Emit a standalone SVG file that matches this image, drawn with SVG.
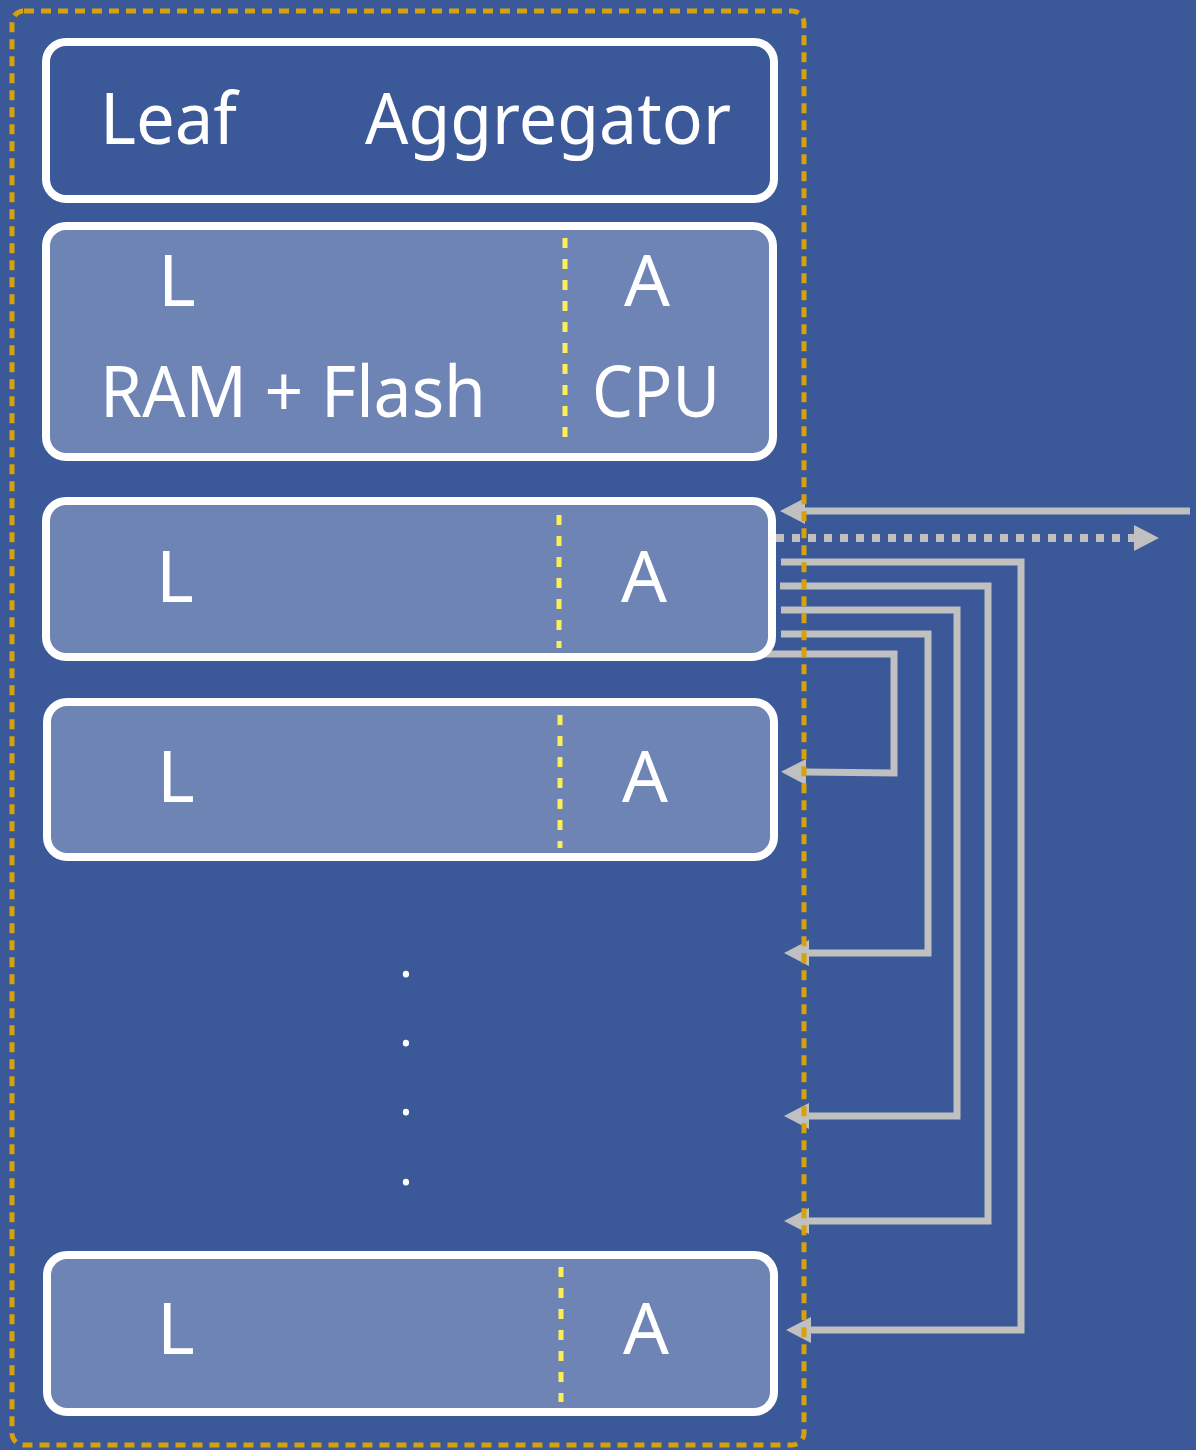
<svg xmlns="http://www.w3.org/2000/svg" width="1196" height="1450" viewBox="0 0 1196 1450">
<style>
.box{stroke:#ffffff;stroke-width:8}
.light{fill:#6e84b4}
.dark{fill:#3b5898}
.div{stroke:#fbef55;stroke-width:5;stroke-dasharray:10 11;fill:none}
.t{font-family:"Noto Sans","Open Sans",sans-serif;font-size:72px;fill:#ffffff}
.dot{font-family:"Noto Sans",sans-serif;font-size:50px;fill:#ffffff;text-anchor:middle}
.conn{stroke:#c0c0c0;stroke-width:7;fill:none}
.dotted{stroke:#c0c0c0;stroke-width:8;stroke-dasharray:8 8;fill:none}
.border{stroke:#d6a10a;stroke-width:5;stroke-dasharray:10 7;fill:none}
</style>
<defs>
<marker id="ah" markerUnits="userSpaceOnUse" markerWidth="26" markerHeight="26" refX="0" refY="13" orient="auto" viewBox="0 0 26 26">
<path d="M0,0 L25,13 L0,26 z" fill="#c0c0c0"/>
</marker>
</defs>
<rect x="0" y="0" width="1196" height="1450" fill="#3b5898"/>

<g id="connectors">
<line class="conn" x1="1190" y1="511" x2="805" y2="511" marker-end="url(#ah)"/>
<line class="dotted" x1="776" y1="538" x2="1134" y2="538" marker-end="url(#ah)"/>
<polyline class="conn" points="781,562 1021,562 1021,1330 811,1330" marker-end="url(#ah)"/>
<polyline class="conn" points="780,586 988,586 988,1221 809,1221" marker-end="url(#ah)"/>
<polyline class="conn" points="781,610 957,610 957,1116 809,1116" marker-end="url(#ah)"/>
<polyline class="conn" points="781,634 928,634 928,953 809,953" marker-end="url(#ah)"/>
<polyline class="conn" points="760,654 894,654 894,773 806,772" marker-end="url(#ah)"/>
</g>

<g id="header">
<rect class="box dark" x="46" y="42" width="728" height="157" rx="20"/>
<text class="t" x="100" y="144" textLength="137" lengthAdjust="spacingAndGlyphs">Leaf</text>
<text class="t" x="365" y="144" textLength="366" lengthAdjust="spacingAndGlyphs">Aggregator</text>
</g>

<g id="node-main">
<rect class="box light" x="46" y="226" width="727" height="231" rx="20"/>
<line class="div" x1="565" y1="238" x2="565" y2="443"/>
<text class="t" x="158" y="306">L</text>
<text class="t" x="624" y="306">A</text>
<text class="t" x="100" y="417" textLength="386" lengthAdjust="spacingAndGlyphs">RAM + Flash</text>
<text class="t" x="592" y="417" textLength="128" lengthAdjust="spacingAndGlyphs">CPU</text>
</g>

<g id="node-1">
<rect class="box light" x="46" y="501" width="726" height="156" rx="20"/>
<line class="div" x1="559" y1="515" x2="559" y2="648"/>
<text class="t" x="156" y="602">L</text>
<text class="t" x="621" y="602">A</text>
</g>

<g id="node-2">
<rect class="box light" x="47" y="702" width="727" height="155" rx="20"/>
<line class="div" x1="560" y1="715" x2="560" y2="848"/>
<text class="t" x="157" y="802">L</text>
<text class="t" x="622" y="802">A</text>
</g>

<g id="ellipsis">
<text class="dot" x="406" y="977">.</text>
<text class="dot" x="406" y="1046">.</text>
<text class="dot" x="406" y="1115">.</text>
<text class="dot" x="406" y="1185">.</text>
</g>

<g id="node-n">
<rect class="box light" x="47" y="1255" width="727" height="157" rx="20"/>
<line class="div" x1="561" y1="1267" x2="561" y2="1402"/>
<text class="t" x="157" y="1354">L</text>
<text class="t" x="623" y="1354">A</text>
</g>

<g id="group-border">
<rect class="border" x="12" y="11" width="792" height="1434" rx="12"/>
</g>
</svg>
